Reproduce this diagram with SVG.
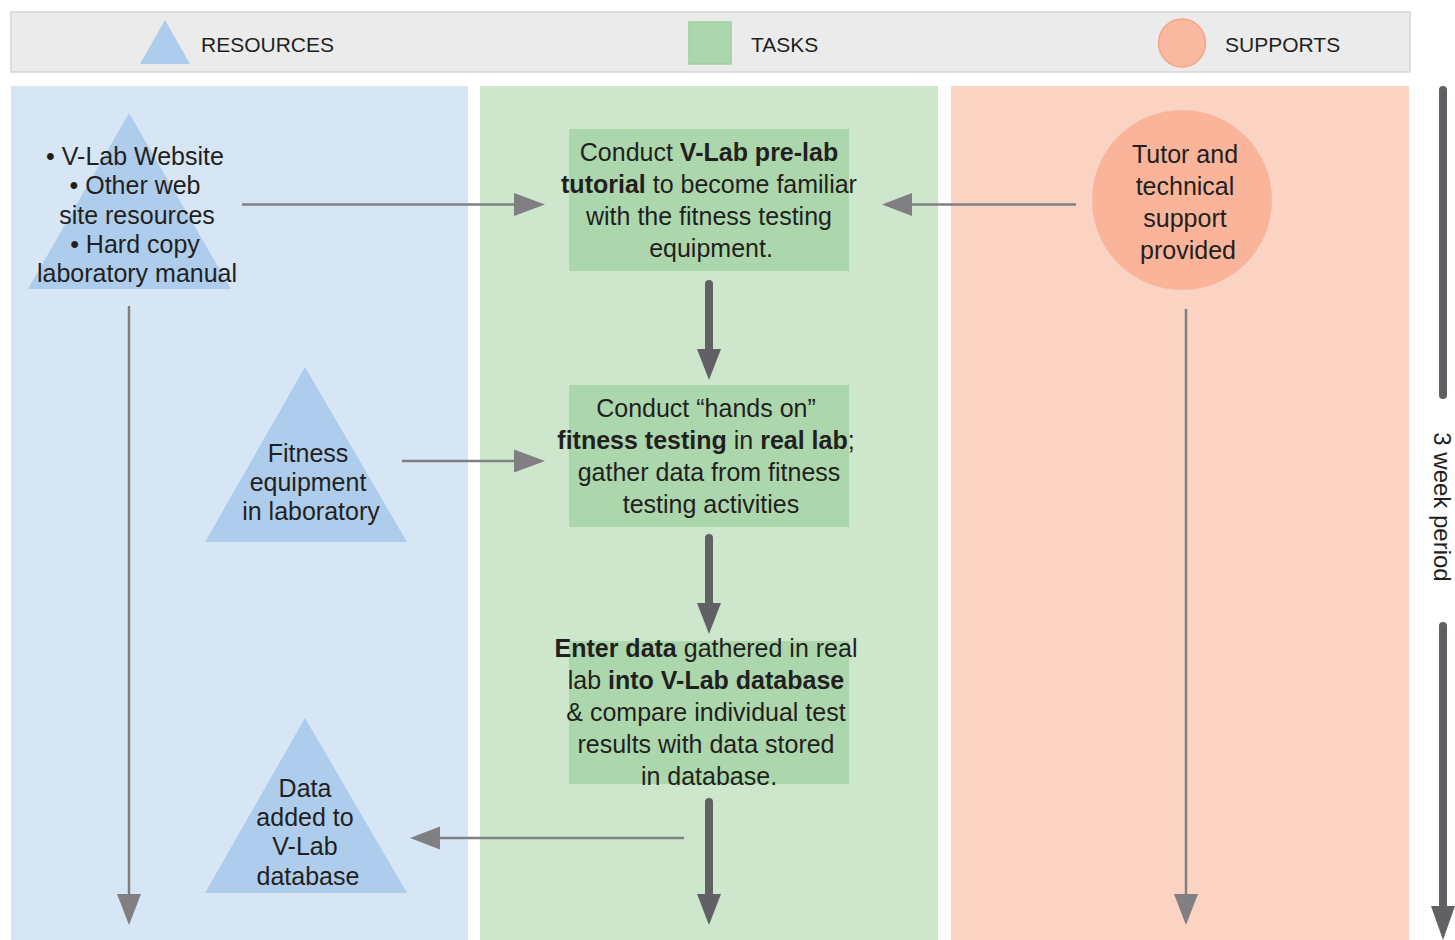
<svg xmlns="http://www.w3.org/2000/svg" width="1455" height="940" viewBox="0 0 1455 940">
<defs>
<style>
text{font-family:"Liberation Sans",Arial,sans-serif;fill:#231f20;font-size:25px;text-anchor:middle}
.hdr{font-size:21px;text-anchor:start}
.b{font-weight:bold}
.thin{stroke:#808083;stroke-width:2.5;fill:none}
.thick{stroke:#616165;stroke-width:8;fill:none;stroke-linecap:round}
.head1{fill:#808083}
.head2{fill:#616165}
.tri{fill:#aecdec}
.task{fill:#acd7ad}
</style>
</defs>
<rect width="1455" height="940" fill="#ffffff"/>
<g id="legend">
<rect x="11" y="12" width="1399" height="60" fill="#ebebeb" stroke="#d6d6d6" stroke-width="1.5"/>
<polygon points="140,64 190,64 165,20" class="tri"/>
<text class="hdr" x="201" y="52">RESOURCES</text>
<rect x="689" y="22" width="42" height="42" fill="#acd7ad" stroke="#9fd0a0" stroke-width="1.5"/>
<text class="hdr" x="751" y="52">TASKS</text>
<ellipse cx="1182" cy="43" rx="23.5" ry="24" fill="#f9b9a0" stroke="#f4a688" stroke-width="1.5"/>
<text class="hdr" x="1225" y="52">SUPPORTS</text>
</g>
<g id="lanes">
<rect x="11" y="86" width="457" height="854" fill="#d6e6f5"/>
<rect x="480" y="86" width="458" height="854" fill="#cee6cc"/>
<rect x="951" y="86" width="458" height="854" fill="#fbd3c2"/>
</g>
<g id="connectors">
<line x1="242" y1="204.5" x2="516" y2="204.5" class="thin"/>
<polygon points="514,193 545,204.5 514,216" class="head1"/>
<line x1="402" y1="461" x2="516" y2="461" class="thin"/>
<polygon points="514,449.5 545,461 514,472.5" class="head1"/>
<line x1="1076" y1="204.5" x2="910" y2="204.5" class="thin"/>
<polygon points="912,193 882,204.5 912,216" class="head1"/>
<line x1="684" y1="838" x2="438" y2="838" class="thin"/>
<polygon points="440,826.5 410,838 440,849.5" class="head1"/>
<line x1="129" y1="306" x2="129" y2="896" class="thin"/>
<polygon points="117,894 141,894 129,925" class="head1"/>
<line x1="1186" y1="309" x2="1186" y2="896" class="thin"/>
<polygon points="1174,894 1198,894 1186,925" class="head1"/>
<line x1="709" y1="284" x2="709" y2="352" class="thick"/>
<polygon points="697,349 721,349 709,380" class="head2"/>
<line x1="709" y1="538" x2="709" y2="606" class="thick"/>
<polygon points="697,603 721,603 709,634" class="head2"/>
<line x1="709" y1="802" x2="709" y2="896" class="thick"/>
<polygon points="697,894 721,894 709,925" class="head2"/>
<line x1="1443" y1="90" x2="1443" y2="395" class="thick" stroke-width="6"/>
<line x1="1443" y1="626" x2="1443" y2="910" class="thick" stroke-width="6"/>
<polygon points="1431,906 1455,906 1443,940" class="head2"/>
</g>
<g id="timeline-label">
<text transform="translate(1434,507) rotate(90)" x="0" y="0" style="font-size:24px">3 week period</text>
</g>
<g id="res-web">
<polygon points="129,113 231,289 28,289" class="tri"/>
<text x="135" y="165">• V-Lab Website</text>
<text x="135" y="194">• Other web</text>
<text x="137" y="224">site resources</text>
<text x="135" y="253">• Hard copy</text>
<text x="137" y="282">laboratory manual</text>
</g>
<g id="res-equipment">
<polygon points="305,367 407,542 205,542" class="tri"/>
<text x="308" y="462">Fitness</text>
<text x="308" y="491">equipment</text>
<text x="311" y="520">in laboratory</text>
</g>
<g id="res-data">
<polygon points="305,718 407,893 205,893" class="tri"/>
<text x="305" y="797">Data</text>
<text x="305" y="826">added to</text>
<text x="305" y="855">V-Lab</text>
<text x="308" y="885">database</text>
</g>
<g id="task-tutorial">
<rect x="569" y="129" width="280" height="142" class="task"/>
<text x="709" y="161">Conduct <tspan class="b">V-Lab pre-lab</tspan></text>
<text x="709" y="193"><tspan class="b">tutorial</tspan> to become familiar</text>
<text x="709" y="225">with the fitness testing</text>
<text x="711" y="257">equipment.</text>
</g>
<g id="task-handson">
<rect x="569" y="385" width="280" height="142" class="task"/>
<text x="706" y="417">Conduct “hands on”</text>
<text x="706" y="449"><tspan class="b">fitness testing</tspan> in <tspan class="b">real lab</tspan>;</text>
<text x="709" y="481">gather data from fitness</text>
<text x="711" y="513">testing activities</text>
</g>
<g id="task-enter">
<rect x="569" y="641" width="280" height="143" class="task"/>
<text x="706" y="657"><tspan class="b">Enter data</tspan> gathered in real</text>
<text x="706" y="689">lab <tspan class="b">into V-Lab database</tspan></text>
<text x="706" y="721">&amp; compare individual test</text>
<text x="706" y="753">results with data stored</text>
<text x="709" y="785">in database.</text>
</g>
<g id="support">
<circle cx="1182" cy="200" r="90" fill="#f9b49a"/>
<text x="1185" y="163">Tutor and</text>
<text x="1185" y="195">technical</text>
<text x="1185" y="227">support</text>
<text x="1188" y="259">provided</text>
</g>
</svg>
